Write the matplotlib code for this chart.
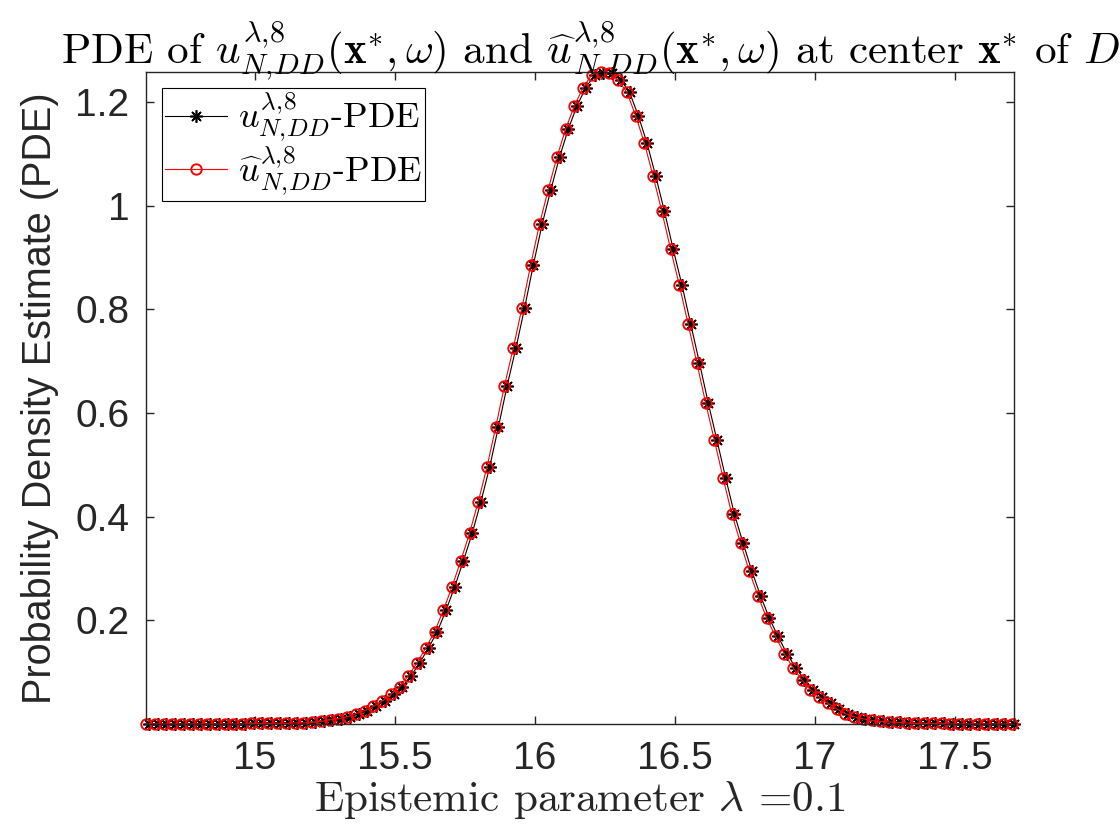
import numpy as np
import matplotlib
matplotlib.use("Agg")
import matplotlib.pyplot as plt

plt.rcParams["mathtext.fontset"] = "cm"
plt.rcParams["font.family"] = ["Liberation Sans", "DejaVu Sans"]

# evaluation grids of the two density estimates (100 points each)
x_u_range = (14.622, 17.712)
x_uhat_range = (14.612, 17.703)
n_points = 100

# PDE of u (black stars) and of u-hat (red circles)
pde_u = [
    0.000, 0.000, 0.000, 0.000, 0.000, 0.000, 0.000, 0.000, 0.000, 0.000,
    0.000, 0.000, 0.001, 0.001, 0.001, 0.001, 0.001, 0.002, 0.002, 0.003,
    0.005, 0.008, 0.010, 0.014, 0.020, 0.026, 0.034, 0.044, 0.057, 0.072,
    0.093, 0.118, 0.147, 0.178, 0.219, 0.265, 0.315, 0.368, 0.429, 0.496,
    0.573, 0.653, 0.725, 0.803, 0.886, 0.964, 1.031, 1.094, 1.148, 1.193,
    1.228, 1.252, 1.257, 1.256, 1.242, 1.219, 1.174, 1.121, 1.057, 0.989,
    0.916, 0.847, 0.772, 0.697, 0.620, 0.548, 0.475, 0.405, 0.349, 0.295,
    0.247, 0.204, 0.169, 0.136, 0.109, 0.085, 0.066, 0.052, 0.040, 0.029,
    0.020, 0.014, 0.010, 0.007, 0.005, 0.004, 0.003, 0.002, 0.001, 0.001,
    0.001, 0.001, 0.000, 0.000, 0.000, 0.000, 0.000, 0.000, 0.000, 0.000,
]
pde_uhat = [
    0.000, 0.000, 0.000, 0.000, 0.000, 0.000, 0.000, 0.000, 0.000, 0.000,
    0.000, 0.000, 0.001, 0.001, 0.001, 0.001, 0.001, 0.002, 0.002, 0.003,
    0.005, 0.008, 0.010, 0.014, 0.020, 0.026, 0.034, 0.044, 0.057, 0.072,
    0.093, 0.118, 0.147, 0.178, 0.219, 0.265, 0.315, 0.368, 0.429, 0.496,
    0.573, 0.653, 0.725, 0.803, 0.886, 0.964, 1.031, 1.094, 1.148, 1.193,
    1.228, 1.253, 1.258, 1.257, 1.242, 1.219, 1.174, 1.121, 1.057, 0.989,
    0.916, 0.847, 0.772, 0.697, 0.620, 0.548, 0.475, 0.405, 0.349, 0.295,
    0.247, 0.204, 0.169, 0.136, 0.109, 0.085, 0.066, 0.052, 0.040, 0.029,
    0.020, 0.014, 0.010, 0.007, 0.005, 0.004, 0.003, 0.002, 0.001, 0.001,
    0.001, 0.001, 0.000, 0.000, 0.000, 0.000, 0.000, 0.000, 0.000, 0.000,
]

x_ticks = [15, 15.5, 16, 16.5, 17, 17.5]
x_tick_labels = ["15", "15.5", "16", "16.5", "17", "17.5"]
y_ticks = [0.2, 0.4, 0.6, 0.8, 1.0, 1.2]
y_tick_labels = ["0.2", "0.4", "0.6", "0.8", "1", "1.2"]

x_u = np.linspace(*x_u_range, n_points)
x_uhat = np.linspace(*x_uhat_range, n_points)

fig = plt.figure(figsize=(11.2, 8.4), dpi=100)
ax = fig.add_axes([0.1304, 0.1381, 0.775, 0.7762])

sup = r"^{\lambda,\!8}_{N,\!DD}"
asterisk = (8, 2, 0)
ax.plot(x_u, pde_u, color="black", lw=0.8, marker=asterisk, ms=9,
        mew=1.2, clip_on=False, label=r"$u%s$-PDE" % sup)
ax.plot(x_uhat, pde_uhat, color="red", lw=0.8, marker="o", ms=7.5,
        mfc="none", mew=1.4, clip_on=False,
        label=r"$\widehat{u}%s$-PDE" % sup)

ax.set_xlim(x_uhat_range[0], x_u_range[1])
ax.set_ylim(0, max(max(pde_u), max(pde_uhat)))
ax.set_xticks(x_ticks)
ax.set_xticklabels(x_tick_labels)
ax.set_yticks(y_ticks)
ax.set_yticklabels(y_tick_labels)

dark = "#262626"
for sp in ax.spines.values():
    sp.set_color(dark)
    sp.set_linewidth(1.0)
ax.tick_params(direction="in", length=6, width=1.0, colors=dark,
               labelsize=28, top=True, right=True, pad=12)

ax.set_ylabel("Probability Density Estimate (PDE)", fontsize=28.5, color=dark,
              labelpad=12)
ax.set_xlabel(r"Epistemic parameter $\lambda$ =0.1", fontsize=31,
              family="cmr10", color=dark, labelpad=2)
ax.set_title(r"PDE of $u%s(\mathbf{x}^{*},\omega)$ and "
             r"$\widehat{u}%s(\mathbf{x}^{*},\omega)$ "
             r"at center $\mathbf{x}^{*}$ of $D$" % (sup, sup),
             fontsize=31, family="cmr10", pad=6, x=0.512)

leg = ax.legend(loc="upper left", bbox_to_anchor=(0.018, 0.976),
                borderaxespad=0, prop={"family": "cmr10", "size": 26},
                fancybox=False, framealpha=1, edgecolor="black",
                handlelength=1.7, handletextpad=0.3, borderpad=0.1,
                labelspacing=0.0)
leg.get_frame().set_linewidth(0.8)

fig.savefig("out.png", dpi=100)
